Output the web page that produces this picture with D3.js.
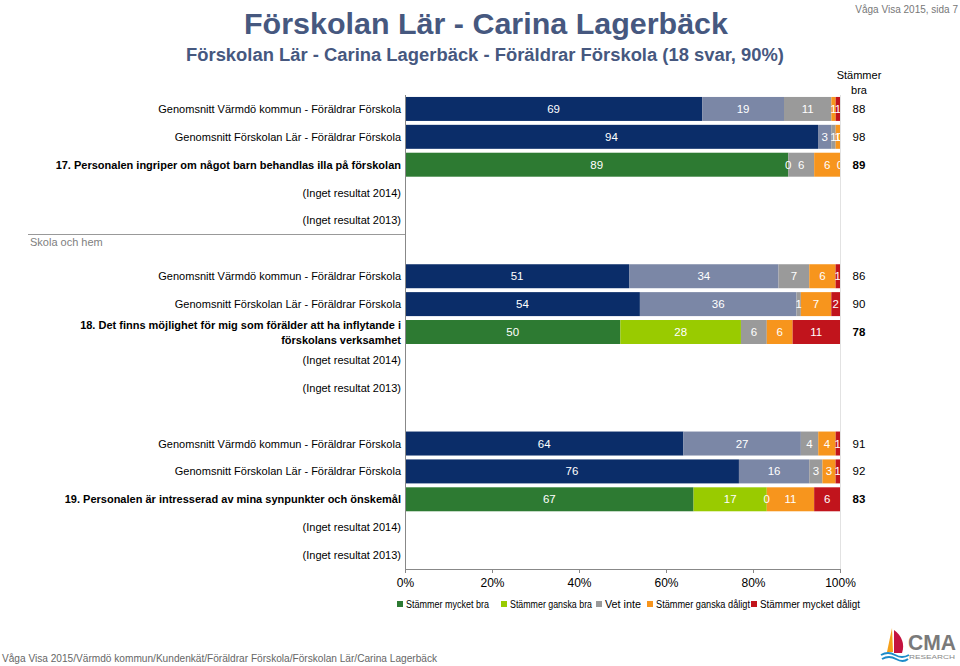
<!DOCTYPE html>
<html><head><meta charset="utf-8">
<script src="https://cdn.jsdelivr.net/npm/d3@7"></script>
<style>
html,body{margin:0;padding:0;background:#fff;}
svg{display:block;font-family:"Liberation Sans",Arial,sans-serif;}
</style></head>
<body>
<svg id="chart" width="960" height="666"></svg>
<script>
// ---- data ----
const categories = ["Stämmer mycket bra","Stämmer ganska bra","Vet inte","Stämmer ganska dåligt","Stämmer mycket dåligt"];
const questions = [
  ["17. Personalen ingriper om något barn behandlas illa på förskolan"],
  ["18. Det finns möjlighet för mig som förälder att ha inflytande i","förskolans verksamhet"],
  ["19. Personalen är intresserad av mina synpunkter och önskemål"]
];
const kommunLabel = "Genomsnitt Värmdö kommun - Föräldrar Förskola";
const skolaLabel = "Genomsnitt Förskolan Lär - Föräldrar Förskola";
const noResult = ["(Inget resultat 2014)","(Inget resultat 2013)"];
const kommunValues = [[69,19,11,1,1],[51,34,7,6,1],[64,27,4,4,1]];
const skolaValues  = [[94,3,1,1,0],[54,36,1,7,2],[76,16,3,3,1]];
const mainValues   = [[89,0,6,6,0],[50,28,6,6,11],[67,17,0,11,6]];
const kommunBra = [88,86,91];
const skolaBra  = [98,90,92];
const mainBra   = [89,78,83];
const tickValues = [0,20,40,60,80,100];
const sectionLabel = "Skola och hem";

const avgColors  = ["#0b2d69","#7b87a6","#9a9a9a","#f7951d","#c1141c"];
const mainColors = ["#2d7a32","#99cb00","#9a9a9a","#f7951d","#c1141c"];

// ---- layout ----
const svg = d3.select("#chart");
const x0 = 405, x1 = 840;
const x = d3.scaleLinear().domain([0,100]).range([x0,x1]);

const rows = [];
questions.forEach((q,i)=>{
  rows.push({id:`q${i}k`, type:"avg", label:[kommunLabel], values:kommunValues[i], bra:kommunBra[i]});
  rows.push({id:`q${i}s`, type:"avg", label:[skolaLabel], values:skolaValues[i], bra:skolaBra[i]});
  rows.push({id:`q${i}m`, type:"main", label:q, values:mainValues[i], bra:mainBra[i]});
  rows.push({id:`q${i}a`, type:"none", label:[noResult[0]]});
  rows.push({id:`q${i}b`, type:"none", label:[noResult[1]]});
  if(i<questions.length-1) rows.push({id:`gap${i}`, type:"gap", label:[]});
});
const y = d3.scaleBand().domain(rows.map(r=>r.id)).range([95,569]).paddingInner(0.14).paddingOuter(0.07);

// titles
svg.append("text").attr("x",958).attr("y",13).attr("text-anchor","end")
  .attr("font-size",10).attr("fill","#777")
  .text("Våga Visa 2015, sida 7");
svg.append("text").attr("x",486).attr("y",34).attr("text-anchor","middle")
  .attr("font-size",30).attr("font-weight","bold").attr("fill","#46587f")
  .attr("textLength",484).attr("lengthAdjust","spacingAndGlyphs")
  .text("Förskolan Lär - Carina Lagerbäck");
svg.append("text").attr("x",485).attr("y",61).attr("text-anchor","middle")
  .attr("font-size",17.5).attr("font-weight","bold").attr("fill","#46587f")
  .attr("textLength",598).attr("lengthAdjust","spacingAndGlyphs")
  .text("Förskolan Lär - Carina Lagerbäck - Föräldrar Förskola (18 svar, 90%)");

// Stämmer bra header
svg.append("text").attr("x",859).attr("y",79).attr("text-anchor","middle").attr("font-size",11).text("Stämmer");
svg.append("text").attr("x",859).attr("y",94).attr("text-anchor","middle").attr("font-size",11).text("bra");

// right border
svg.append("line").attr("x1",x1+0.5).attr("x2",x1+0.5).attr("y1",y.range()[0]).attr("y2",569)
  .attr("stroke","#e2e2e2");

// clip
svg.append("clipPath").attr("id","plotclip").append("rect")
  .attr("x",x0).attr("y",0).attr("width",x1-x0).attr("height",666);

const bh = y.bandwidth();
rows.forEach(r=>{
  const cy = y(r.id) + bh/2;
  if(r.label.length){
    const t = svg.append("text").attr("x",401).attr("text-anchor","end").attr("font-size",11)
      .attr("fill","#000").attr("font-weight", r.type==="main"?"bold":"normal");
    const n = r.label.length;
    r.label.forEach((l,k)=>{
      t.append("tspan").attr("x",401).attr("y", cy + 4 + (k-(n-1)/2)*15).text(l);
    });
  }
  if(r.type==="avg" || r.type==="main"){
    const total = d3.sum(r.values);
    const cols = r.type==="main"?mainColors:avgColors;
    let cum = 0;
    const segs = r.values.map((v,j)=>{ const s={v, j, a:cum/total*100, b:(cum+v)/total*100}; cum+=v; return s;});
    const g = svg.append("g");
    g.selectAll("rect").data(segs).join("rect")
      .attr("x",d=>x(d.a)).attr("width",d=>x(d.b)-x(d.a))
      .attr("y",y(r.id)).attr("height",bh).attr("fill",d=>cols[d.j]);
    const lg = svg.append("g").attr("clip-path","url(#plotclip)");
    lg.selectAll("text").data(segs).join("text")
      .attr("x",d=>x((d.a+d.b)/2)).attr("y",cy+4).attr("text-anchor","middle")
      .attr("font-size",11.5).attr("fill","#fff").text(d=>d.v);
    svg.append("text").attr("x",859).attr("y",cy+4).attr("text-anchor","middle")
      .attr("font-size",11.5).attr("font-weight", r.type==="main"?"bold":"normal").text(r.bra);
  }
});

// section header line + label
const gapBand = y("gap0");
const lineY = Math.round(gapBand - (y.step()-bh)/2) + 0.5;
svg.append("line").attr("x1",28).attr("x2",x0).attr("y1",lineY).attr("y2",lineY).attr("stroke","#999");
svg.append("text").attr("x",30).attr("y",lineY+11).attr("font-size",11).attr("fill","#808080").text(sectionLabel);

// axes
const axisG = svg.append("g").attr("transform",`translate(0,569)`)
  .call(d3.axisBottom(x).tickValues(tickValues).tickFormat(d=>d+"%").tickSize(4).tickPadding(5));
axisG.select(".domain").attr("stroke","#888");
axisG.selectAll(".tick line").attr("stroke","#888");
axisG.selectAll(".tick text").attr("font-size",12).attr("fill","#000").attr("font-family","Liberation Sans, Arial, sans-serif");
svg.append("line").attr("x1",x0+0.5).attr("x2",x0+0.5).attr("y1",95).attr("y2",569).attr("stroke","#888");

// legend
const legendX = [397,501,596,647,751];
const legendW = [83,82,36,94,100];
const lg = svg.append("g");
categories.forEach((c,i)=>{
  lg.append("rect").attr("x",legendX[i]).attr("y",601).attr("width",6).attr("height",6).attr("fill",mainColors[i]);
  lg.append("text").attr("x",legendX[i]+9).attr("y",608).attr("font-size",10)
    .attr("textLength",legendW[i]).attr("lengthAdjust","spacingAndGlyphs").text(c);
});

// footer
svg.append("text").attr("x",2).attr("y",662).attr("font-size",11).attr("fill","#666")
  .attr("textLength",435).attr("lengthAdjust","spacingAndGlyphs")
  .text("Våga Visa 2015/Värmdö kommun/Kundenkät/Föräldrar Förskola/Förskolan Lär/Carina Lagerbäck");

// logo
const logo = svg.append("g").attr("transform","translate(878,626)");
logo.append("path").attr("d","M14,2 L9,26 L15,26 Z").attr("fill","#f5a01a");
logo.append("path").attr("d","M16,4 C24,10 27,18 24,27 L16,27 Z").attr("fill","#c4123f");
logo.append("path").attr("d","M3,29 Q10,25 17,29 T31,29").attr("fill","none").attr("stroke","#1d8bc9").attr("stroke-width",2);
logo.append("path").attr("d","M4,33 Q11,29 18,33 T30,33").attr("fill","none").attr("stroke","#1d8bc9").attr("stroke-width",2);
logo.append("text").attr("x",30).attr("y",24).attr("font-size",22).attr("font-weight","bold").attr("fill","#7a7a7a")
  .attr("textLength",48).attr("lengthAdjust","spacingAndGlyphs").text("CMA");
logo.append("text").attr("x",31).attr("y",33).attr("font-size",6).attr("fill","#888")
  .attr("textLength",46).attr("lengthAdjust","spacingAndGlyphs").text("RESEARCH");
</script>
</body></html>
